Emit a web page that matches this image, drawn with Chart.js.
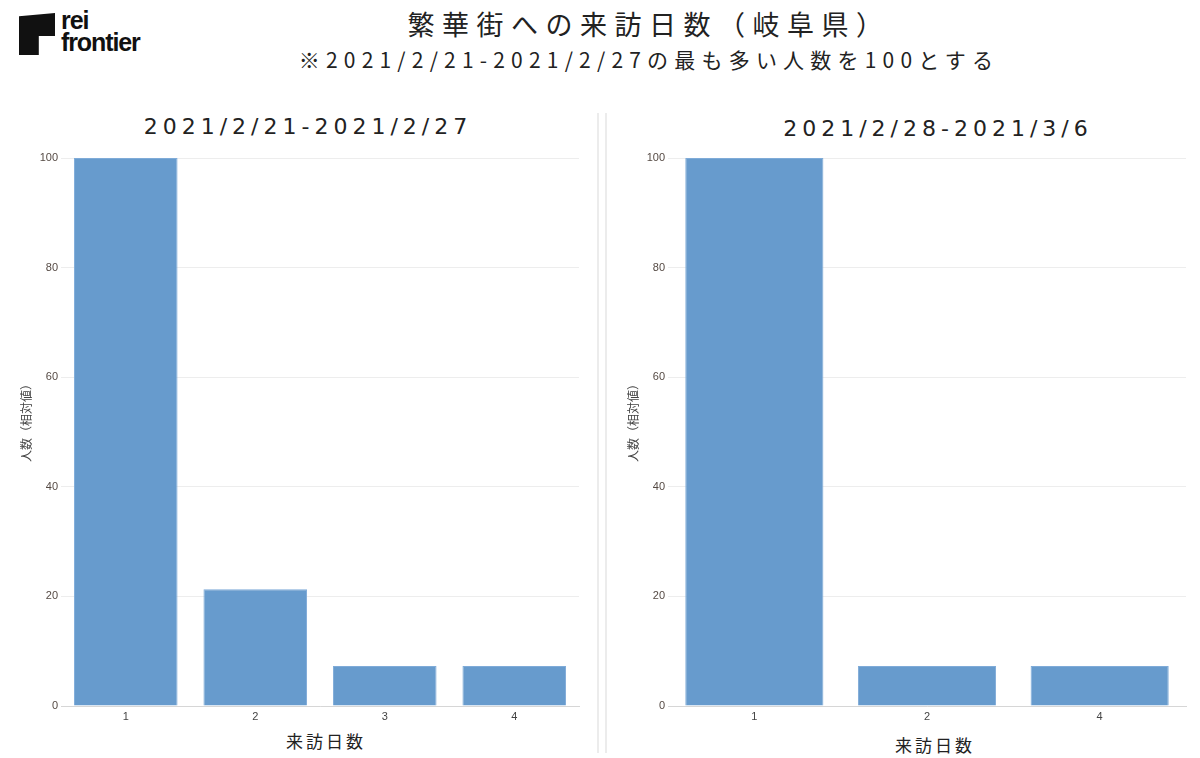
<!DOCTYPE html>
<html>
<head>
<meta charset="utf-8">
<script src="https://cdn.jsdelivr.net/npm/chart.js@4"></script>
<style>
    body { margin: 0; width: 1200px; height: 758px; background: #fff; position: relative; overflow: hidden; font-family: "Noto Sans CJK JP", sans-serif; color: #222; }
    .abs { position: absolute; }
    .title { left: 49px; width: 1200px; text-align: center; white-space: nowrap; }
    .logo-mark { left: 19px; top: 13px; width: 36px; height: 42px; background: #111; clip-path: polygon(0 8%, 100% 0, 100% 55%, 55% 55%, 55% 100%, 0 100%); }
    .logo-text { left: 61px; top: 9px; font-family: "Liberation Sans", Arial, sans-serif; font-weight: bold; font-size: 25px; line-height: 22px; letter-spacing: -1.1px; color: #111; }
    .divider { top: 113px; width: 2px; height: 640px; background: #ececec; }
    .sub { text-align: center; white-space: nowrap; }
    .period { font-family: "DejaVu Sans", sans-serif; font-size: 22px; letter-spacing: 5px; color: #222; }
</style>
</head>
<body>
<div class="abs logo-mark"></div>
<div class="abs logo-text">rei<br>frontier</div>

<div class="abs title" style="top:4px;font-size:27px;letter-spacing:7.5px;">繁華街への来訪日数（岐阜県）</div>
<div class="abs title" style="top:44px;font-size:21px;letter-spacing:6.2px;">※2021/2/21-2021/2/27の最も多い人数を100とする</div>

<div class="abs divider" style="left:597px;"></div>
<div class="abs divider" style="left:605px;"></div>

<div class="abs sub period" id="t1" style="left:108px;width:400px;top:114px;"></div>
<div class="abs sub period" id="t2" style="left:738px;width:400px;top:116px;"></div>
<div class="abs sub" style="left:226px;width:200px;top:728px;font-size:17px;letter-spacing:3px;">来訪日数</div>
<div class="abs sub" style="left:835px;width:200px;top:732px;font-size:17px;letter-spacing:3px;">来訪日数</div>

<div class="abs" style="left:0;top:148px;width:590px;height:580px;"><canvas id="chart1"></canvas></div>
<div class="abs" style="left:610px;top:148px;width:580px;height:580px;"><canvas id="chart2"></canvas></div>

<script>
// data
const periods = ["2021/2/21-2021/2/27", "2021/2/28-2021/3/6"];
const daysWeek1 = ["1", "2", "3", "4"];
const valuesWeek1 = [100, 21.3, 7.3, 7.3];
const daysWeek2 = ["1", "2", "4"];
const valuesWeek2 = [100, 7.3, 7.3];
const yTicks = [0, 20, 40, 60, 80, 100];

document.getElementById("t1").textContent = periods[0];
document.getElementById("t2").textContent = periods[1];

function makeChart(id, labels, values, yWidth, padLeft, padRight) {
    new Chart(document.getElementById(id), {
        type: "bar",
        data: {
            labels: labels,
            datasets: [{
                data: values,
                backgroundColor: "#679bcd",
                borderColor: "#7fabd8",
                borderWidth: 1,
                categoryPercentage: 1,
                barPercentage: 0.8,
            }]
        },
        options: {
            responsive: true,
            maintainAspectRatio: false,
            animation: false,
            layout: { padding: { top: 10, left: padLeft, right: padRight, bottom: 0 } },
            plugins: {
                legend: { display: false },
                tooltip: { enabled: false }
            },
            scales: {
                x: {
                    grid: { display: false, drawTicks: false },
                    border: { color: "#d6d6d6", width: 1 },
                    ticks: { color: "#444", padding: 4, font: { family: "Liberation Sans", size: 11 } },
                    afterFit: scale => { scale.height = 22; }
                },
                y: {
                    min: 0,
                    max: 100,
                    afterBuildTicks: scale => { scale.ticks = yTicks.map(v => ({ value: v })); },
                    grid: { color: "#ededed", drawTicks: false },
                    border: { display: false },
                    ticks: { color: "#554a44", padding: 3, font: { family: "Liberation Sans", size: 11 } },
                    title: {
                        display: true,
                        text: "\u3000\u3000人数（相対値）",
                        color: "#444",
                        padding: 0,
                        font: { family: "Noto Sans CJK JP", size: 12 }
                    },
                    afterFit: scale => { scale.width = yWidth; }
                }
            }
        }
    });
}

makeChart("chart1", daysWeek1, valuesWeek1, 42, 19, 11);
makeChart("chart2", daysWeek2, valuesWeek2, 42, 16, 4);
</script>
</body>
</html>
